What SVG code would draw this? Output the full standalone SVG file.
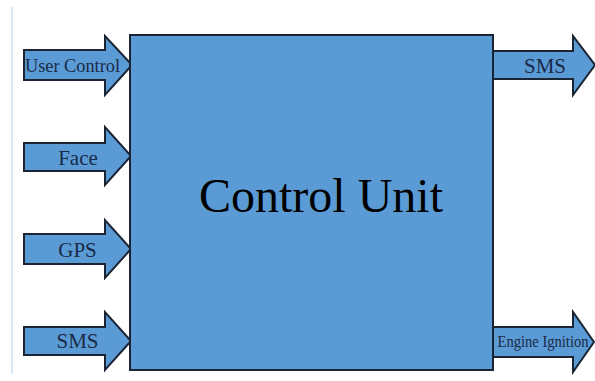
<svg xmlns="http://www.w3.org/2000/svg" width="595" height="381" viewBox="0 0 595 381">
<style>
.arr{fill:#5b9bd5;stroke:#1b2433;stroke-width:2;stroke-linejoin:miter}
.lbl{font-family:"Liberation Serif",serif;fill:#1a2a48;text-anchor:middle}
</style>
<rect width="595" height="381" fill="#fff"/>
<line x1="12" y1="7" x2="12" y2="374" stroke="#dce9f5" stroke-width="2"/>
<g id="connectors">
<g id="in-user-control"><path class="arr" d="M24,50 H105 V36 L132,65 L105,95 V80 H24 Z"/><text class="lbl" x="72.5" y="72" font-size="19" textLength="95" lengthAdjust="spacingAndGlyphs">User Control</text></g>
<g id="in-face"><path class="arr" d="M24,143 H105 V127 L131,156 L105,185 V171 H24 Z"/><text class="lbl" x="78" y="165" font-size="21">Face</text></g>
<g id="in-gps"><path class="arr" d="M24,234 H105 V220 L131,249 L105,278 V264 H24 Z"/><text class="lbl" x="77.5" y="257" font-size="21">GPS</text></g>
<g id="in-sms"><path class="arr" d="M24,327 H105 V312 L131,341 L105,370 V355 H24 Z"/><text class="lbl" x="77.5" y="348" font-size="21">SMS</text></g>
<g id="out-sms"><path class="arr" d="M493,51 H573 V36 L595,65 L573,95 V79 H493 Z"/><text class="lbl" x="545" y="73" font-size="21">SMS</text></g>
<g id="out-engine"><path class="arr" d="M493,327 H573 V312 L594,342 L573,372 V357 H493 Z"/><text class="lbl" x="543" y="347" font-size="17" textLength="91" lengthAdjust="spacingAndGlyphs">Engine Ignition</text></g>
</g>
<g id="control-unit"><rect x="130" y="35" width="363" height="335" fill="#5b9bd5" stroke="#1b2433" stroke-width="2"/><text x="321" y="212" font-family="'Liberation Serif',serif" font-size="48" fill="#000" text-anchor="middle">Control Unit</text></g>
</svg>
